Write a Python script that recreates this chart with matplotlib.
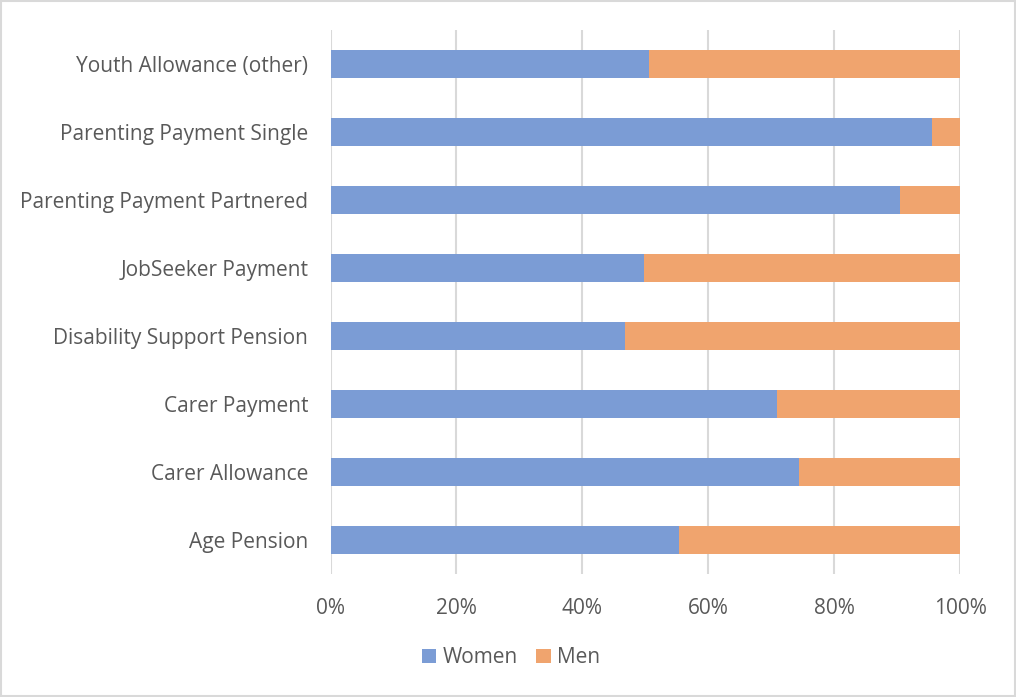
import matplotlib.pyplot as plt
import numpy as np

plt.rcParams['font.family'] = ['Open Sans', 'DejaVu Sans']

categories = ['Age Pension', 'Carer Allowance', 'Carer Payment',
              'Disability Support Pension', 'JobSeeker Payment',
              'Parenting Payment Partnered', 'Parenting Payment Single',
              'Youth Allowance (other)']
women = [55.4, 74.4, 71.0, 46.8, 49.8, 90.5, 95.6, 50.6]
men = [100 - w for w in women]

blue = '#7B9CD5'
orange = '#F0A46E'
text_col = '#595959'

fig = plt.figure(figsize=(10.16, 6.97), dpi=100)
ax = fig.add_axes([0.3253, 0.1765, 0.6196, 0.7805])

y = np.arange(len(categories))
ax.barh(y, women, height=0.4, color=blue, label='Women', zorder=3)
ax.barh(y, men, left=women, height=0.4, color=orange, label='Men', zorder=3)

ax.set_xlim(0, 100)
ax.set_ylim(-0.5, len(categories) - 0.5)
ax.set_xticks(range(0, 101, 20))
ax.set_xticklabels([f'{v}%' for v in range(0, 101, 20)])
ax.set_yticks(y)
ax.set_yticklabels(categories)
ax.tick_params(length=0, labelsize=15, colors=text_col)
ax.tick_params(axis='x', pad=17)
ax.tick_params(axis='y', pad=16)
ax.grid(axis='x', color='#D9D9D9', linewidth=1.5, zorder=0)
for s in ax.spines.values():
    s.set_visible(False)

fig.legend(loc='center', bbox_to_anchor=(0.503, 0.056), ncol=2, frameon=False,
           fontsize=15, labelcolor=text_col, handlelength=0.7, handleheight=0.7,
           handletextpad=0.3, columnspacing=0.9)

fig.patches.append(plt.Rectangle((0.001, 0.001), 0.998, 0.998, transform=fig.transFigure,
                                 fill=False, edgecolor='#D9D9D9', linewidth=1.5))

fig.savefig('out.png', dpi=100)
